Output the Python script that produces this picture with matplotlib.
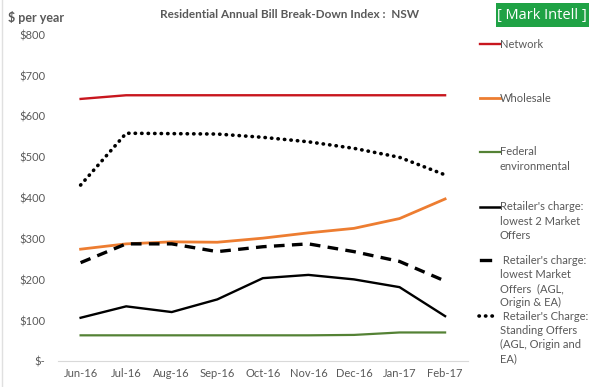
import matplotlib
matplotlib.use("Agg")
import matplotlib.pyplot as plt
from matplotlib.lines import Line2D
from matplotlib.patches import Rectangle

plt.rcParams['font.family'] = ['Lato', 'DejaVu Sans']

months = ["Jun-16", "Jul-16", "Aug-16", "Sep-16", "Oct-16", "Nov-16", "Dec-16", "Jan-17", "Feb-17"]
network = [643, 652, 652, 652, 652, 652, 652, 652, 652]
wholesale = [275, 288, 293, 292, 302, 315, 326, 350, 398]
federal = [64, 64, 64, 64, 64, 64, 65, 71, 71]
lowest2 = [107, 135, 121, 152, 204, 212, 201, 182, 111]
lowest_market = [242, 288, 288, 269, 281, 288, 269, 245, 197]
standing = [432, 559, 558, 557, 549, 538, 522, 500, 457]
yticks = [0, 100, 200, 300, 400, 500, 600, 700, 800]
ytick_labels = ["$-", "$100", "$200", "$300", "$400", "$500", "$600", "$700", "$800"]

c_net = "#C8161E"
c_whs = "#ED7D31"
c_fed = "#548235"
c_txt = "#595959"

fig = plt.figure(figsize=(5.9, 3.87), dpi=100)
ax = fig.add_axes([0.098, 0.066, 0.695, 0.844])
x = list(range(len(months)))

ax.plot(x, network, color=c_net, lw=1.7)
ax.plot(x, wholesale, color=c_whs, lw=2.0)
ax.plot(x, federal, color=c_fed, lw=1.6)
ax.plot(x, lowest2, color="black", lw=1.7)
ax.plot(x, lowest_market, color="black", lw=2.4, linestyle=(0, (3.2, 2.2)))
ax.plot(x, standing, color="black", lw=2.6, linestyle=(0, (0.1, 1.7)), dash_capstyle="round")

ax.set_xlim(-0.5, len(months) - 0.5)
ax.set_ylim(0, 800)
ax.set_xticks(x)
ax.set_xticklabels(months, fontsize=8, color=c_txt)
ax.set_yticks(yticks)
ax.set_yticklabels(ytick_labels, fontsize=8, color=c_txt)
for s in ["top", "right", "left"]:
    ax.spines[s].set_visible(False)
ax.spines["bottom"].set_color("#D9D9D9")
ax.tick_params(axis="x", length=0, pad=5)
ax.tick_params(axis="y", length=0, pad=9)

fig.text(0.49, 0.962, "Residential Annual Bill Break-Down Index :  NSW", ha="center", va="center",
         fontsize=8.5, fontweight="bold", color=c_txt)
fig.text(0.014, 0.955, "$ per year", ha="left", va="center", fontsize=9, fontweight="bold", color=c_txt)

# logo
fig.add_artist(Rectangle((0.84, 0.93), 0.158, 0.062, transform=fig.transFigure,
                         facecolor="#1FA245", edgecolor="none"))
fig.text(0.919, 0.961, "[ Mark Intell ]", ha="center", va="center", fontsize=10.5,
         color="white", family=["Open Sans", "DejaVu Sans"])

# legend
W, H = 590.0, 387.0
def fx(px):
    return px / W
def fy(py):
    return 1 - py / H

entries = [
    (44, dict(color=c_net, lw=1.7), ["Network"], 480, 500),
    (98, dict(color=c_whs, lw=2.0), ["Wholesale"], 480, 500),
    (152, dict(color=c_fed, lw=1.6), ["Federal", "environmental"], 480, 500),
    (207, dict(color="black", lw=1.8), ["Retailer's charge:", "lowest 2 Market", "Offers"], 480, 500),
    (260, dict(color="black", lw=2.4), [" Retailer's charge:", "lowest Market", "Offers  (AGL,", "Origin & EA)"], 481, 490),
    (316, dict(color="black", lw=2.6, linestyle=(0, (0.1, 1.7)), dash_capstyle="round"),
     [" Retailer's Charge:", "Standing Offers", "(AGL, Origin and", "EA)"], 479, 496),
]
for py, style, lines, x0, x1 in entries:
    fig.add_artist(Line2D([fx(x0), fx(x1)], [fy(py), fy(py)], transform=fig.transFigure, **style))
    for i, t in enumerate(lines):
        fig.text(fx(500), fy(py + i * 14.2), t, ha="left", va="center", fontsize=8, color=c_txt)

# left frame line
fig.add_artist(Line2D([0.004, 0.004], [0, 1], transform=fig.transFigure, color="#E0E0E0", lw=1))

fig.savefig("out.png", dpi=100)
